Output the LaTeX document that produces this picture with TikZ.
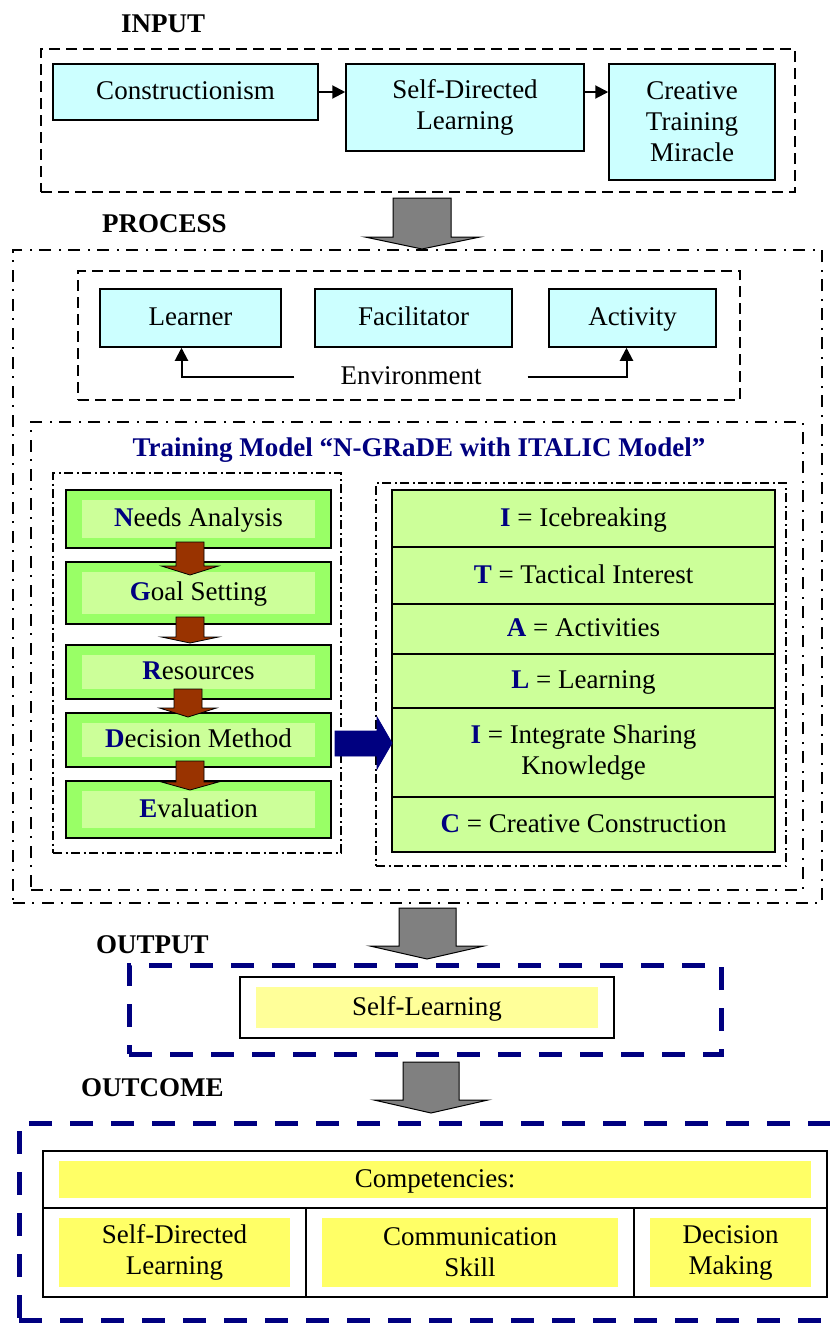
\documentclass[tikz,border=0pt]{standalone}
\usepackage{fontspec}
\setmainfont{Liberation Serif}
\usetikzlibrary{shapes,arrows,arrows.meta,positioning,calc}

\definecolor{boxcyan}{HTML}{CCFFFF}
\definecolor{stepgreen}{HTML}{99FF66}
\definecolor{steplight}{HTML}{CCFF99}
\definecolor{stepbrown}{HTML}{993300}
\definecolor{navy}{HTML}{000080}
\definecolor{paleyellow}{HTML}{FFFF99}
\definecolor{brightyellow}{HTML}{FFFF66}
\definecolor{arrowgray}{HTML}{808080}

\newcommand{\keyletter}[1]{\textbf{\textcolor{navy}{#1}}}

\begin{document}
\begin{tikzpicture}[x=1pt, y=-1pt, font=\fontsize{27}{31}\selectfont,
    innerfill/.style={path picture={\fill[#1] ($(path picture bounding box.south west)+(16pt,10pt)$) rectangle ($(path picture bounding box.north east)+(-16pt,-10pt)$);}},
    oneline/.style={text height=20pt, text depth=5pt},
    cyanbox/.style={draw, line width=1.5pt, fill=boxcyan, align=center, inner sep=0pt},
    stepbox/.style={draw, line width=1.5pt, fill=stepgreen, minimum width=265, oneline, innerfill=steplight},
    rowbox/.style={draw, line width=1.5pt, fill=steplight, minimum width=383, align=center, outer sep=0pt},
    cellbox/.style={draw, line width=1.5pt, fill=white, align=center, innerfill=#1},
    dashframe/.style={draw, line width=2pt, dash pattern=on 11pt off 6pt},
    dotframe/.style={draw, line width=1.8pt, dash pattern=on 12pt off 7pt on 2pt off 8pt},
    smalldotframe/.style={draw, line width=1.3pt, dash pattern=on 9pt off 3.5pt on 2pt off 3.5pt},
    navyframe/.style={draw=navy, line width=5pt, dash pattern=on 23pt off 18pt},
    stagename/.style={font=\fontsize{27}{31}\selectfont\bfseries, anchor=base west, inner sep=0pt},
    grayarrow/.style={fill=arrowgray, draw=black, line width=1pt},
    brownarrow/.style={fill=stepbrown, draw=black, line width=0.8pt},
    flowarrow/.style={line width=2pt, -{Triangle[length=13pt,width=13pt]}}]

    \useasboundingbox (0,0) rectangle (830,1323);
    \clip (0,0) rectangle (830,1323);

    % INPUT
    \node[stagename] (inputname) at (121,32) {INPUT};
    \node[dashframe, minimum width=754, minimum height=143] (inputframe) at (418,120.5) {};
    \node[cyanbox, oneline, minimum width=265, minimum height=56] (construct) at (185.5,92) {Constructionism};
    \node[cyanbox, minimum width=238, minimum height=87] (sdl) at (465,107.5) {Self-Directed\\Learning};
    \node[cyanbox, minimum width=166, minimum height=116] (ctm) at (692,122) {Creative\\Training\\Miracle};
    \draw[flowarrow] (construct.east) -- (construct.east -| sdl.west);
    \draw[flowarrow] (construct.east -| sdl.east) -- (construct.east -| ctm.west);
    \filldraw[grayarrow] (393,198) -- (451,198) -- (451,237) -- (480,237) -- (422,249) -- (365,237) -- (393,237) -- cycle;

    % PROCESS
    \node[stagename] (processname) at (102,232) {PROCESS};
    \node[dotframe, minimum width=809, minimum height=653] (processframe) at (417.5,576.5) {};
    \node[dashframe, minimum width=662, minimum height=129] (envframe) at (409,335.5) {};
    \node[cyanbox, oneline, minimum width=181, minimum height=58] (learner) at (190.5,318) {Learner};
    \node[cyanbox, oneline, minimum width=197, minimum height=58] (facil) at (413.5,318) {Facilitator};
    \node[cyanbox, oneline, minimum width=167, minimum height=58] (activity) at (632.5,318) {Activity};
    \node[oneline, inner xsep=46pt, inner ysep=0pt] (env) at (411,377) {Environment};
    \draw[flowarrow] (env.west) -| ([xshift=-9pt]learner.south);
    \draw[flowarrow] (env.east) -| ([xshift=-6pt]activity.south);

    % Training model
    \node[dotframe, minimum width=772, minimum height=468] (trainframe) at (417,656) {};
    \node[oneline, font=\fontsize{27}{31}\selectfont\bfseries, text=navy] (title) at (419,449) {Training Model “N-GRaDE with ITALIC Model”};
    \node[smalldotframe, minimum width=288, minimum height=380] (ngrade) at (197,663) {};
    \node[smalldotframe, minimum width=410, minimum height=383] (italic) at (581,674.5) {};

    % N-GRaDE steps
    \node[stepbox, minimum height=58] (needs) at (198.5,519) {\keyletter{N}eeds Analysis};
    \node[stepbox, minimum height=62] (goal) at (198.5,593) {\keyletter{G}oal Setting};
    \node[stepbox, minimum height=54] (resources) at (198.5,672) {\keyletter{R}esources};
    \node[stepbox, minimum height=54] (decision) at (198.5,740) {\keyletter{D}ecision Method};
    \node[stepbox, minimum height=57] (evaluation) at (198.5,809.5) {\keyletter{E}valuation};
    \filldraw[brownarrow] (176,542) -- (204,542) -- (204,566) -- (218.5,566) -- (190,575) -- (161.5,566) -- (176,566) -- cycle;
    \filldraw[brownarrow] (176,617) -- (204,617) -- (204,637) -- (218.5,637) -- (190,643) -- (161.5,637) -- (176,637) -- cycle;
    \filldraw[brownarrow] (174,689) -- (202,689) -- (202,708) -- (216.5,708) -- (188,717) -- (159.5,708) -- (174,708) -- cycle;
    \filldraw[brownarrow] (176,761) -- (204,761) -- (204,782) -- (218.5,782) -- (190,790) -- (161.5,782) -- (176,782) -- cycle;

    % ITALIC rows
    \node[rowbox, oneline, minimum height=57] (ice) at (583.5,518.5) {\keyletter{I} = Icebreaking};
    \node[rowbox, oneline, minimum height=57, below=0pt of ice] (tactic) {\keyletter{T} = Tactical Interest};
    \node[rowbox, oneline, minimum height=50, below=0pt of tactic] (activities) {\keyletter{A} = Activities};
    \node[rowbox, oneline, minimum height=54, below=0pt of activities] (learning) {\keyletter{L} = Learning};
    \node[rowbox, minimum height=89, below=0pt of learning] (integrate) {\keyletter{I} = Integrate Sharing\\Knowledge};
    \node[rowbox, oneline, minimum height=55, below=0pt of integrate] (creative) {\keyletter{C} = Creative Construction};
    \filldraw[fill=navy, draw=navy, line width=0.8pt] (335,731) -- (377,731) -- (377,717) -- (392,743) -- (377,769) -- (377,756) -- (335,756) -- cycle;

    % OUTPUT
    \filldraw[grayarrow] (399,908) -- (456,908) -- (456,946) -- (484,946) -- (427,959) -- (370,946) -- (399,946) -- cycle;
    \node[stagename] (outputname) at (96,953) {OUTPUT};
    \node[navyframe, minimum width=592, minimum height=89] (outputframe) at (425,1009.5) {};
    \node[cellbox=paleyellow, oneline, minimum width=374, minimum height=61] (selflearn) at (427,1007.5) {Self-Learning};

    % OUTCOME
    \filldraw[grayarrow] (403,1062) -- (459,1062) -- (459,1100) -- (488,1100) -- (431,1113) -- (374,1100) -- (403,1100) -- cycle;
    \node[stagename] (outcomename) at (81,1096) {OUTCOME};
    \node[navyframe, minimum width=861, minimum height=197] (outcomeframe) at (449.5,1221.5) {};
    \node[cellbox=brightyellow, oneline, minimum width=784, minimum height=57] (comp) at (435,1179.5) {Competencies:};
    \node[cellbox=brightyellow, minimum width=263, minimum height=89] (sdlskill) at (174.5,1252.5) {Self-Directed\\Learning};
    \node[cellbox=brightyellow, minimum width=328, minimum height=89] (commskill) at (470,1252.5) {Communication\\Skill};
    \node[cellbox=brightyellow, minimum width=193, minimum height=89] (decskill) at (730.5,1252.5) {Decision\\Making};
\end{tikzpicture}
\end{document}
